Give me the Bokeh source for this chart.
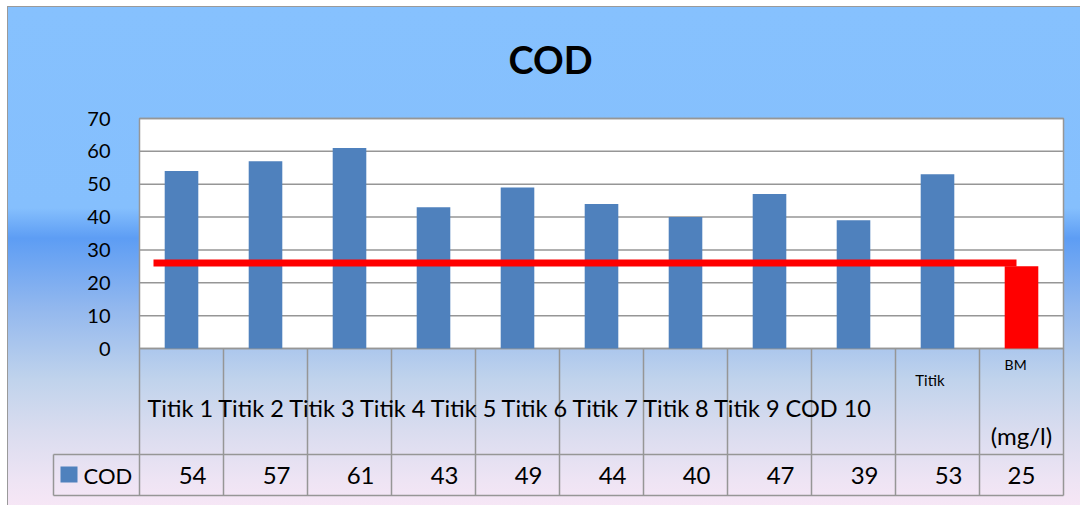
from bokeh.plotting import figure
from bokeh.models import Range1d, LinearAxis, FixedTicker, ColumnDataSource
from bokeh.core.properties import value
from bokeh.embed import file_html
from bokeh.resources import INLINE

# ---------------- data ----------------
title_text = "COD"
series_name = "COD"
row_labels = ["Titik 1", "Titik 2", "Titik 3", "Titik 4", "Titik 5",
              "Titik 6", "Titik 7", "Titik 8", "Titik 9", "COD 10"]
cell10_label = "Titik"
cell11_top = "BM"
cell11_bottom = "(mg/l)"
values = [54, 57, 61, 43, 49, 44, 40, 47, 39, 53, 25]
bm_level = 26
y_ticks = [0, 10, 20, 30, 40, 50, 60, 70]

# ---------------- styling / layout ----------------
BLUE = "#4F81BD"
RED = "#FF0000"
GRID = "#969696"
FONT = "Lato"

W, H = 1080, 505
PAGE_OFF = 0
FRAME_LEFT_PX = 48          # page px where the frame starts
X0_PX, XPU = 139, 84.0      # page x of category 0, px per category
Y0_PX, YPU = 348, 230 / 70  # page y of value 0, px per unit

def dx(px):
    return (px - X0_PX) / XPU

def dy(px):
    return (Y0_PX - px) / YPU

n = len(values)
colors = [BLUE] * (n - 1) + [RED]
xc = [i + 0.5 for i in range(n)]

p = figure(width=W, height=H, output_backend="svg", toolbar_location=None,
           x_axis_type=None, y_axis_type=None,
           x_range=Range1d(dx(FRAME_LEFT_PX), dx(PAGE_OFF + W)),
           y_range=Range1d(dy(PAGE_OFF + H), dy(PAGE_OFF)),
           min_border_left=FRAME_LEFT_PX - PAGE_OFF, min_border_right=0,
           min_border_top=0, min_border_bottom=0)
p.outline_line_color = None
p.background_fill_alpha = 0
p.border_fill_alpha = 0
p.xgrid.visible = False
p.ygrid.visible = False
grad = ("linear-gradient(to bottom, #86C1FE 0%, #85BFFD 40%, #5D9DF4 46%, "
        "#93B8EE 60%, #C0D3EC 74%, #D9DCEF 84%, #EEE4F4 94%, #F8E7F6 100%)")
p.styles = {
    "background-color": "white",
    "background-image": "linear-gradient(#9A9A9A, #9A9A9A), linear-gradient(#9A9A9A, #9A9A9A), " + grad,
    "background-position": "7px 6px, 7px 6px, 7px 6px",
    "background-size": "1px 100%, 100% 1px, 100% 100%",
    "background-repeat": "no-repeat, no-repeat, no-repeat",
}

# white plot area
ymax = y_ticks[-1]
p.quad(left=[0], right=[n], bottom=[0], top=[ymax], fill_color="white",
       line_color=GRID, line_width=1.5)
# gridlines
p.segment(x0=[0] * len(y_ticks), x1=[n] * len(y_ticks), y0=y_ticks, y1=y_ticks,
          line_color=GRID, line_width=1.5)

# bars
src = ColumnDataSource(dict(x=xc, top=values, color=colors))
p.vbar(x="x", top="top", bottom=0, width=0.4, fill_color="color", line_color=None, source=src)

# standard level line
p.line(x=[dx(153), dx(1016)], y=[bm_level, bm_level], line_color=RED, line_width=7)

# y axis drawn at a fixed location
yax = LinearAxis(ticker=FixedTicker(ticks=y_ticks), fixed_location=dx(116))
yax.axis_line_color = None
yax.major_tick_line_color = None
yax.minor_tick_line_color = None
yax.major_label_standoff = 0
yax.major_label_text_font = FONT
yax.major_label_text_font_size = "20px"
yax.major_label_text_color = "black"
p.add_layout(yax, "left")

# data table
y_row = dy(454)
y_bot = dy(495)
x_leg = dx(53)
p.segment(x0=[x_leg, x_leg], x1=[n, n], y0=[y_row, y_bot], y1=[y_row, y_bot],
          line_color=GRID, line_width=1.5)
p.segment(x0=list(range(n + 1)), x1=list(range(n + 1)), y0=[0] * (n + 1), y1=[y_bot] * (n + 1),
          line_color=GRID, line_width=1.5)
p.segment(x0=[x_leg], x1=[x_leg], y0=[y_row], y1=[y_bot], line_color=GRID, line_width=1.5)

# category labels
p.text(x=[dx(147)], y=[dy(407)], text=[" ".join(row_labels)], text_font=value(FONT),
       text_font_size="23.5px", text_align="left", text_baseline="middle", text_color="black")
p.text(x=[9.5 - 0.09], y=[dy(379)], text=[cell10_label], text_font=value(FONT),
       text_font_size="15px", text_align="center", text_baseline="middle", text_color="black")
p.text(x=[10.5 - 0.07], y=[dy(364)], text=[cell11_top], text_font=value(FONT),
       text_font_size="14px", text_align="center", text_baseline="middle", text_color="black")
p.text(x=[10.5], y=[dy(435)], text=[cell11_bottom], text_font=value(FONT),
       text_font_size="24px", text_align="center", text_baseline="middle", text_color="black")

# values row
p.text(x=[i + 1 - 17 / XPU for i in range(n - 1)], y=[dy(475)] * (n - 1),
       text=[str(v) for v in values[:-1]], text_font=value(FONT), text_font_size="24px",
       text_align="right", text_baseline="middle", text_color="black")
p.text(x=[n - 0.5], y=[dy(475)], text=[str(values[-1])], text_font=value(FONT),
       text_font_size="24px", text_align="center", text_baseline="middle", text_color="black")

# legend key in the table
p.quad(left=[dx(60)], right=[dx(77)], top=[dy(466)], bottom=[dy(482)], fill_color=BLUE, line_color=None)
p.text(x=[dx(83)], y=[dy(475)], text=[series_name], text_font=value(FONT), text_font_size="22px",
       text_align="left", text_baseline="middle", text_color="black")

# title
p.text(x=[dx(550)], y=[dy(58)], text=[title_text], text_font=value(FONT), text_font_size="38px",
       text_font_style="bold", text_align="center", text_baseline="middle", text_color="black")

open("out.html", "w").write(file_html(p, INLINE))
